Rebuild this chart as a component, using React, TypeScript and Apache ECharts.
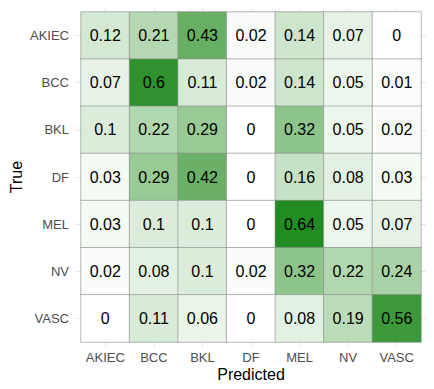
import React, { useEffect, useRef } from "react";
import * as echarts from "echarts";

const classes = ["AKIEC", "BCC", "BKL", "DF", "MEL", "NV", "VASC"];
// rows = true class, columns = predicted class
const rowAKIEC = [0.12, 0.21, 0.43, 0.02, 0.14, 0.07, 0];
const rowBCC = [0.07, 0.6, 0.11, 0.02, 0.14, 0.05, 0.01];
const rowBKL = [0.1, 0.22, 0.29, 0, 0.32, 0.05, 0.02];
const rowDF = [0.03, 0.29, 0.42, 0, 0.16, 0.08, 0.03];
const rowMEL = [0.03, 0.1, 0.1, 0, 0.64, 0.05, 0.07];
const rowNV = [0.02, 0.08, 0.1, 0.02, 0.32, 0.22, 0.24];
const rowVASC = [0, 0.11, 0.06, 0, 0.08, 0.19, 0.56];
const rows = [rowAKIEC, rowBCC, rowBKL, rowDF, rowMEL, rowNV, rowVASC];

const FONT = "Liberation Sans, Arial, sans-serif";

export default function App() {
  const ref = useRef<HTMLDivElement>(null);
  useEffect(() => {
    if (!ref.current) return;
    const chart = echarts.init(ref.current, null, { renderer: "svg" });
    const data: [number, number, number][] = [];
    rows.forEach((r, yi) => r.forEach((v, xi) => data.push([xi, yi, v])));
    const stub = { show: true, alignWithLabel: true, interval: 0, length: 5, lineStyle: { color: "#e6e6e6", width: 1 } };
    chart.setOption({
      animation: false,
      backgroundColor: "#ffffff",
      grid: { left: 79, top: 12, width: 342, height: 330, containLabel: false },
      xAxis: [
        {
          type: "category",
          data: classes,
          position: "bottom",
          axisLine: { show: false },
          axisTick: stub,
          splitLine: { show: false },
          axisLabel: { color: "#4d4d4d", fontSize: 13, fontFamily: FONT, margin: 9, interval: 0 },
          name: "Predicted",
          nameLocation: "middle",
          nameGap: 24,
          nameMoveOverlap: false,
          nameTextStyle: { color: "#000", fontSize: 16, fontFamily: FONT },
        },
        {
          type: "category",
          data: classes,
          position: "top",
          axisLine: { show: false },
          axisTick: stub,
          axisLabel: { show: false },
        },
      ],
      yAxis: [
        {
          type: "category",
          data: classes,
          inverse: true,
          position: "left",
          axisLine: { show: false },
          axisTick: stub,
          splitLine: { show: false },
          axisLabel: { color: "#4d4d4d", fontSize: 13, fontFamily: FONT, margin: 12, interval: 0 },
          name: "True",
          nameLocation: "middle",
          nameGap: 57,
          nameMoveOverlap: false,
          nameRotate: 90,
          nameTextStyle: { color: "#000", fontSize: 16, fontFamily: FONT },
        },
        {
          type: "category",
          data: classes,
          inverse: true,
          position: "right",
          axisLine: { show: false },
          axisTick: stub,
          axisLabel: { show: false },
        },
      ],
      visualMap: {
        show: false,
        min: 0,
        max: 0.64,
        dimension: 2,
        inRange: { color: ["#ffffff", "#c6e2c4", "#8cc489", "#55a652", "#228b22"] },
      },
      series: [
        {
          type: "heatmap",
          data,
          xAxisIndex: 0,
          yAxisIndex: 0,
          itemStyle: { borderColor: "#8a8a8a", borderWidth: 0.6 },
          label: {
            show: true,
            color: "#000",
            fontSize: 16,
            fontFamily: FONT,
            formatter: (p: any) => String(p.value[2]),
          },
          emphasis: { disabled: true },
        },
      ],
    });
    return () => chart.dispose();
  }, []);
  return <div ref={ref} style={{ width: 434, height: 389, margin: -8 }} />;
}
